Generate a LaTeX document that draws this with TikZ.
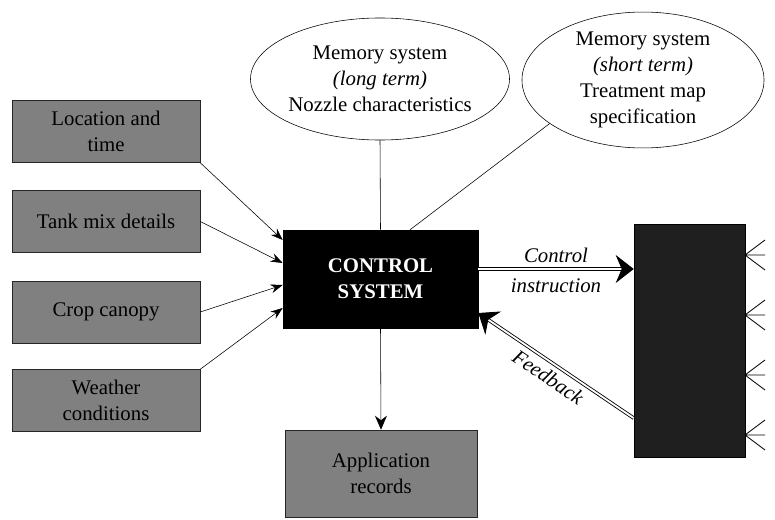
\documentclass[tikz,border=0pt]{standalone}
\usepackage{fontspec}
\setmainfont{Liberation Serif}
\usetikzlibrary{arrows.meta,shapes.geometric}

\begin{document}
\begin{tikzpicture}[x=0.025cm,y=-0.025cm,
    font=\fontsize{14.8}{18.5}\selectfont,
    source/.style={draw=black!85,fill=black!50,minimum width=4.7cm,minimum height=1.55cm,align=center,inner sep=1pt},
    memory/.style={draw,ellipse,align=center,inner sep=0pt},
    feed/.style={->,>={Stealth[length=0.3cm,width=0.22cm]}},
    dbl/.style={double,double distance=1.3pt,line width=0.6pt}]
  \useasboundingbox (0,0) rectangle (775,519);
  \node[source] (loc) at (106,131.5) {Location and\\time};
  \node[source] (tank) at (106,221.5) {Tank mix details};
  \node[source] (crop) at (106,312) {Crop canopy};
  \node[source] (weather) at (106,400.5) {Weather\\conditions};
  \node[draw,fill=black,text=white,font=\fontsize{14.8}{18.5}\selectfont\bfseries,align=center,
    minimum width=4.875cm,minimum height=2.45cm] (ctrl) at (380.5,279) {CONTROL\\SYSTEM};
  \node[memory,minimum width=6.15cm,minimum height=3.05cm] (memlong) at (380,79)
    {Memory system\\\textit{(long term)}\\Nozzle characteristics};
  \node[memory,minimum width=6.05cm,minimum height=3.1cm] (memshort) at (643,80)
    {Memory system\\\textit{(short term)}\\Treatment map\\specification};
  \node[draw,fill=black!88,minimum width=2.775cm,minimum height=5.825cm] (sprayer) at (689.5,340.5) {};
  \node[source,minimum width=4.8cm,minimum height=2.175cm] (records) at (381,473.5) {Application\\records};
  \draw[feed] (loc.south east) -- ([yshift=0.975cm]ctrl.west);
  \draw[feed] (tank.east) -- ([yshift=0.4cm]ctrl.west);
  \draw[feed] (crop.east) -- ([yshift=-0.15cm]ctrl.west);
  \draw[feed] (weather.north east) -- ([yshift=-0.725cm]ctrl.west);
  \draw (memlong.south) -- (ctrl.north);
  \draw (memshort.205) -- ([xshift=0.74cm]ctrl.north);
  \draw[->,>={Stealth[length=0.35cm,width=0.3cm]}] (ctrl.south) -- (records.north);
  \draw[dbl,-{Stealth[length=0.45cm,width=0.7cm,inset=0.15cm]}] ([yshift=0.25cm]ctrl.east)
    -- node[above=1pt,font=\fontsize{14.8}{18.5}\selectfont\itshape] {Control}
       node[below=3pt,font=\fontsize{14.8}{18.5}\selectfont\itshape] {instruction}
    ([yshift=0.25cm]ctrl.east -| sprayer.west);
  \draw[dbl,{Stealth[length=0.45cm,width=0.7cm,inset=0.15cm]}-] ([yshift=-0.85cm]ctrl.east)
    -- node[sloped,below=1pt,font=\fontsize{14.8}{18.5}\selectfont\itshape] {Feedback}
    ([yshift=-1.94cm]sprayer.west);
  \foreach \y in {255,315,375,435}
    \draw[line width=0.6pt] (745,\y) -- +(20,-15) (745,\y) -- +(20,0) (745,\y) -- +(20,15);
\end{tikzpicture}
\end{document}
